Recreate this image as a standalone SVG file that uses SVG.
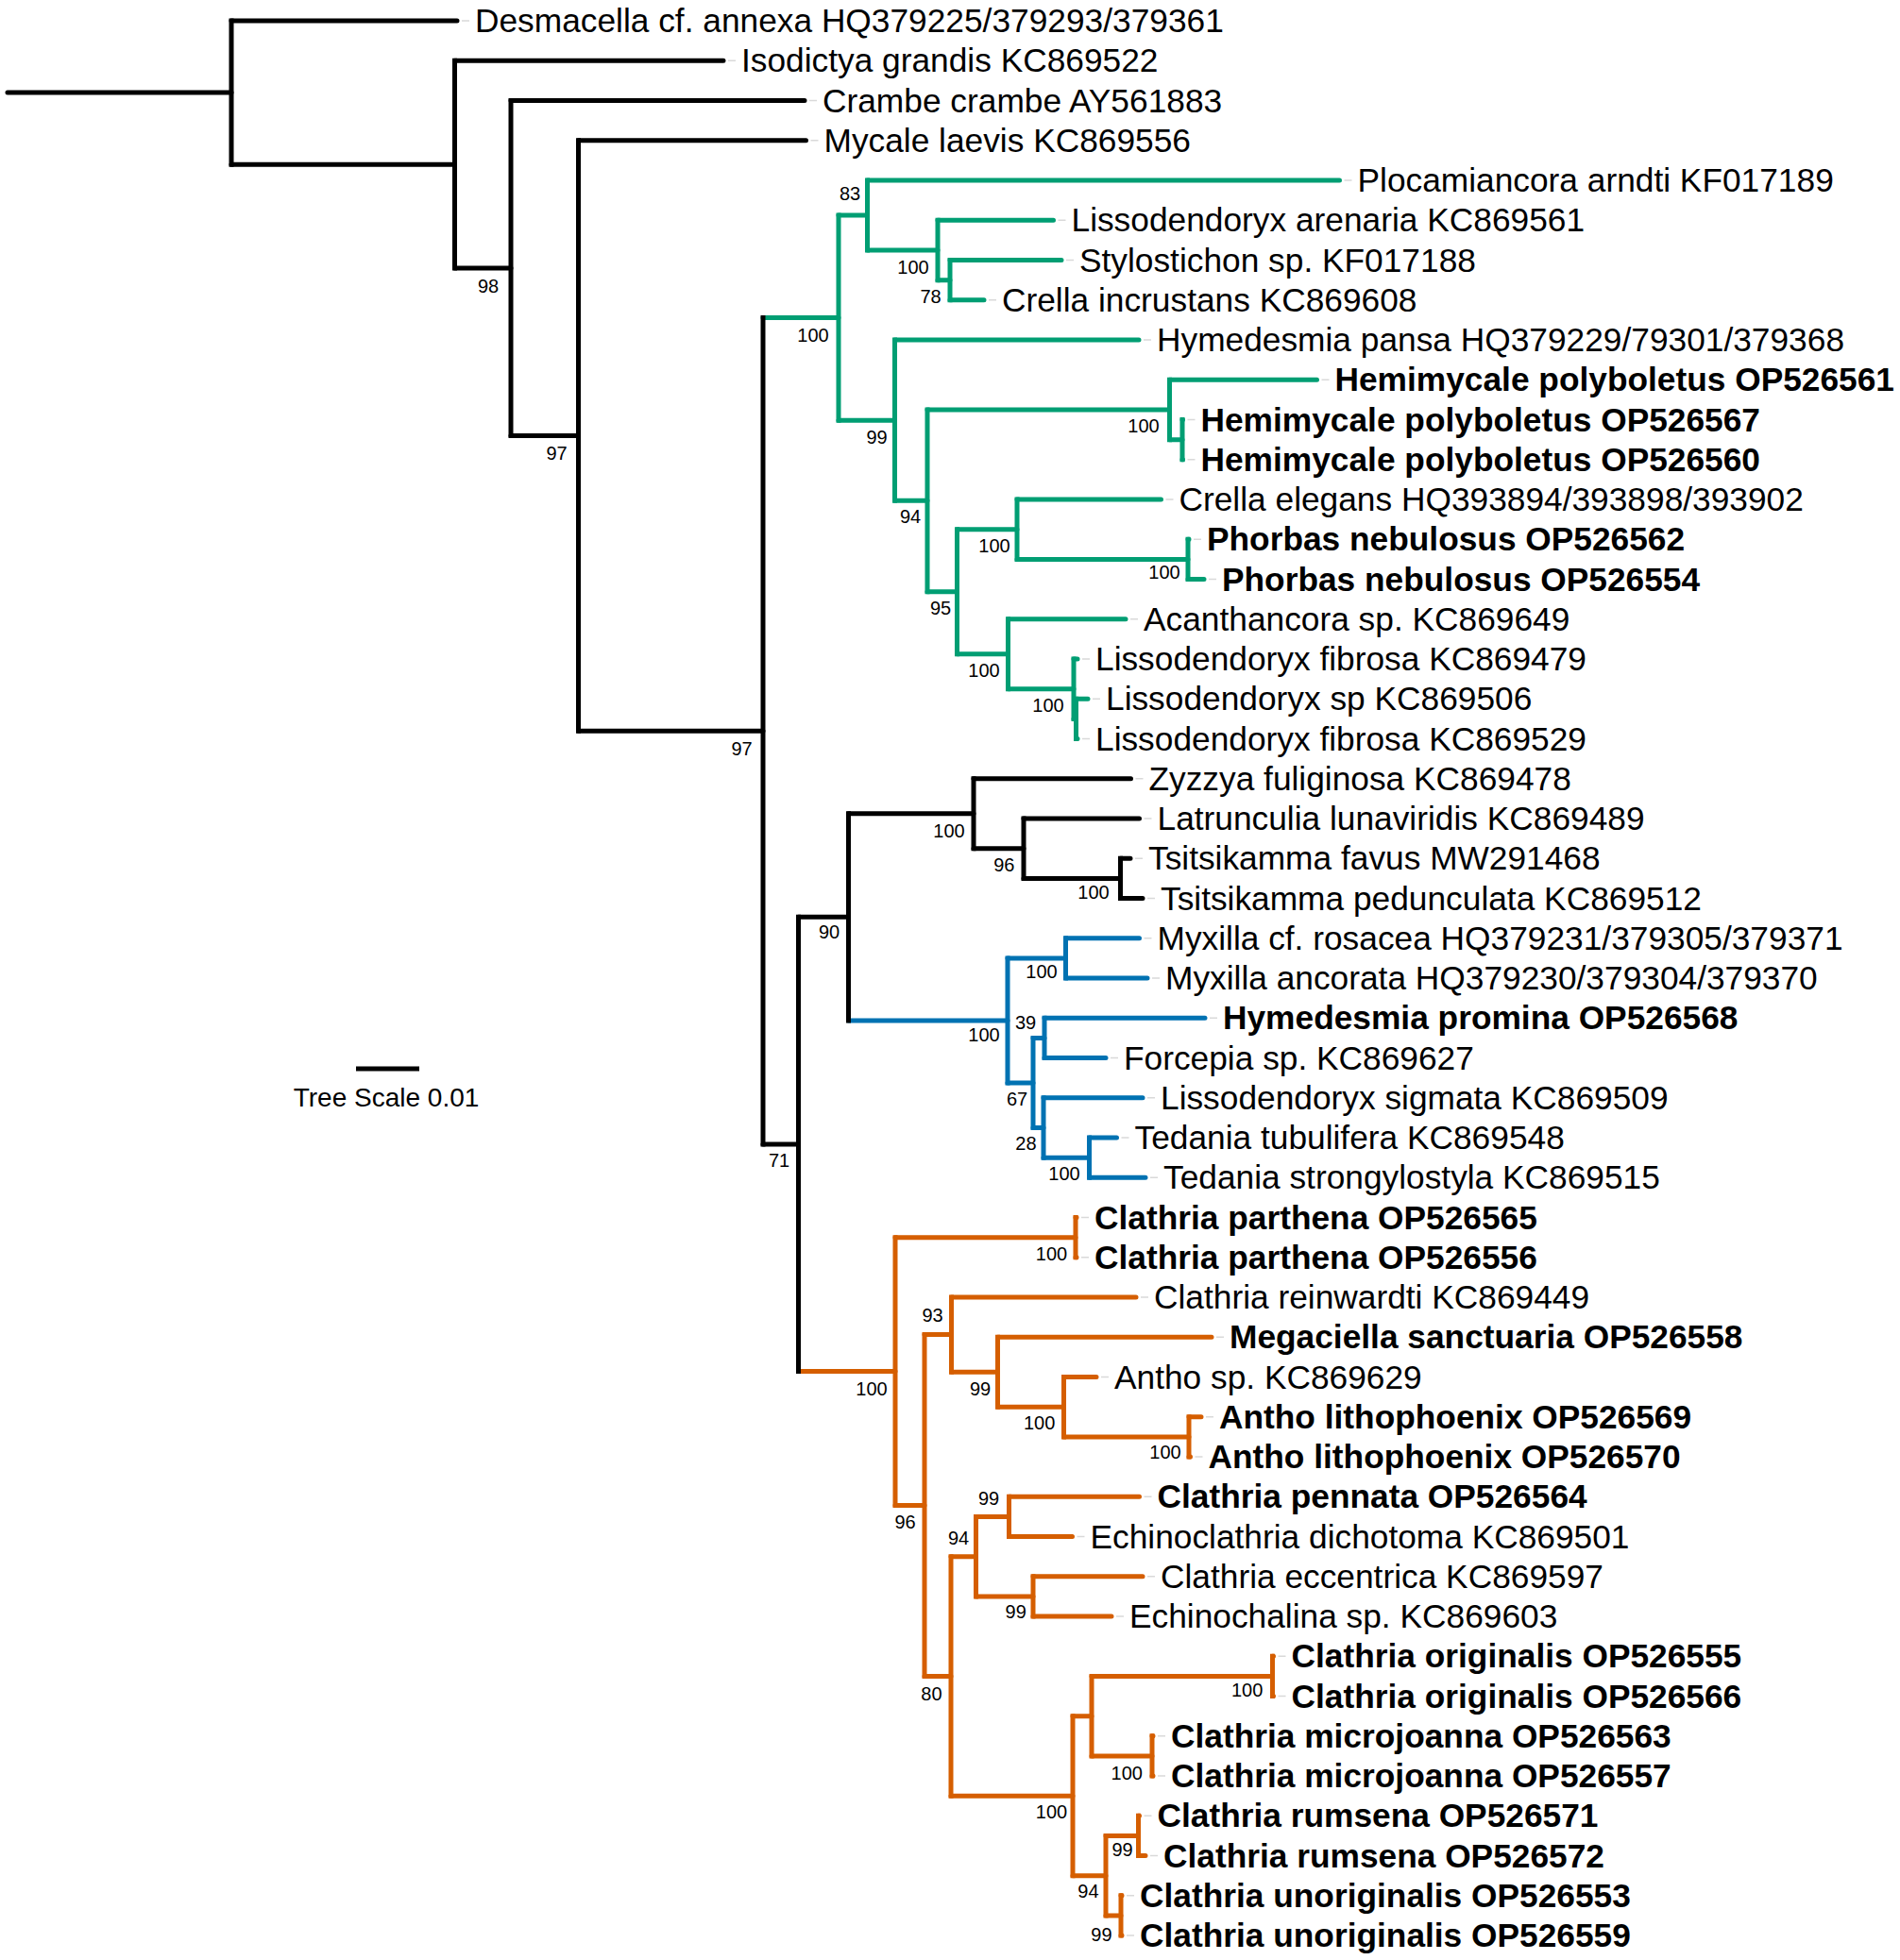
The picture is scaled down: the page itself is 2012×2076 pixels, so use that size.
<svg xmlns="http://www.w3.org/2000/svg" width="2012" height="2076" viewBox="0 0 2012 2076">
<style>
path{fill:none;stroke-width:5}
.k{stroke:#000}.g{stroke:#009E73}.b{stroke:#0072B2}.o{stroke:#D55E00}
.h{stroke-linecap:round}
.v{stroke-linecap:square}
.ld{stroke:#d9d9d9;stroke-width:1.5;stroke-linecap:butt}
text{font-family:"Liberation Sans",Arial,sans-serif;fill:#000}
.lf{font-size:35.3px}
.bd{font-weight:bold}
.bs{font-size:20px;text-anchor:middle}
.sc{font-size:28px;text-anchor:middle}
</style>
<rect width="2012" height="2076" fill="#fff"/>
<g id="connectors">
<g class="k">
<path class="h" d="M8 98.06H245M245 22H484M245 174.125H481.5M481.5 64.25H766M481.5 284H541M541 106.5H852M541 461.5H612.5M612.5 148.75H853.5M612.5 774.25H808M808 1211.93H845.5M845.5 971.3H898.5M898.5 861.72H1031M1031 824.75H1197.5M1031 898.69H1084M1084 867H1206.5M1084 930.375H1186.5M1186.5 909.25H1197M1186.5 951.5H1210"/>
</g>
<g class="g">
<path class="h" d="M808 336.57H888M888 227.97H918.5M918.5 191H1418.5M918.5 264.94H993M993 233.25H1115.5M993 296.625H1006M1006 275.5H1124M1006 317.75H1042M888 445.16H947.5M947.5 360H1206M947.5 530.32H982M982 433.94H1238.5M1238.5 402.25H1394.5M1238.5 465.625H1252M1252 444.5H1252.5M1252 486.75H1252.5M982 626.7H1013.5M1013.5 560.69H1077M1077 529H1229.5M1077 592.375H1258M1258 571.25H1259M1258 613.5H1275M1013.5 692.72H1067.5M1067.5 655.75H1192M1067.5 729.69H1137M1137 698H1141M1137 761.375H1139.5M1139.5 740.25H1152M1139.5 782.5H1141"/>
</g>
<g class="b">
<path class="h" d="M898.5 1080.89H1067M1067 1014.875H1128.5M1128.5 993.75H1206.5M1128.5 1036H1215M1067 1146.91H1094M1094 1099.375H1106M1106 1078.25H1276M1106 1120.5H1171M1094 1194.44H1105M1105 1162.75H1210M1105 1226.125H1153.5M1153.5 1205H1182.5M1153.5 1247.25H1213"/>
</g>
<g class="o">
<path class="h" d="M845.5 1452.56H948M948 1310.625H1139M1139 1289.5H1140M1139 1331.75H1140M948 1594.49H979M979 1413.61H1007.5M1007.5 1374H1203M1007.5 1453.22H1056.5M1056.5 1416.25H1283M1056.5 1490.19H1126.5M1126.5 1458.5H1161M1126.5 1521.875H1259M1259 1500.75H1272M1259 1543H1260.5M979 1775.375H1007M1007 1648.625H1033.5M1033.5 1606.375H1068.5M1068.5 1585.25H1206.5M1068.5 1627.5H1135.5M1033.5 1690.875H1094M1094 1669.75H1210M1094 1712H1177M1007 1902.125H1136M1136 1817.625H1156M1156 1775.375H1347.5M1347.5 1754.25H1348.5M1347.5 1796.5H1348.5M1156 1859.875H1220M1220 1838.75H1221M1220 1881H1221M1136 1986.625H1171M1171 1944.375H1205.5M1205.5 1923.25H1206.5M1205.5 1965.5H1213M1171 2028.875H1187M1187 2007.75H1188M1187 2050H1188"/>
</g>
<g class="g">
<path class="v" d="M888 227.97V445.16M918.5 191V264.94M993 233.25V296.625M1006 275.5V317.75M947.5 360V530.32M982 433.94V626.7M1238.5 402.25V465.625M1252 444.5V486.75M1013.5 560.69V692.72M1077 529V592.375M1258 571.25V613.5M1067.5 655.75V729.69M1137 698V761.375M1139.5 740.25V782.5"/>
</g>
<g class="b">
<path class="v" d="M1067 1014.875V1146.91M1128.5 993.75V1036M1094 1099.375V1194.44M1106 1078.25V1120.5M1105 1162.75V1226.125M1153.5 1205V1247.25"/>
</g>
<g class="o">
<path class="v" d="M948 1310.625V1594.49M1139 1289.5V1331.75M979 1413.61V1775.375M1007.5 1374V1453.22M1056.5 1416.25V1490.19M1126.5 1458.5V1521.875M1259 1500.75V1543M1007 1648.625V1902.125M1033.5 1606.375V1690.875M1068.5 1585.25V1627.5M1094 1669.75V1712M1136 1817.625V1986.625M1156 1775.375V1859.875M1347.5 1754.25V1796.5M1220 1838.75V1881M1171 1944.375V2028.875M1205.5 1923.25V1965.5M1187 2007.75V2050"/>
</g>
<g class="k">
<path class="v" d="M245 22V174.125M481.5 64.25V284M541 106.5V461.5M612.5 148.75V774.25M808 336.57V1211.93M845.5 971.3V1452.56M898.5 861.72V1080.89M1031 824.75V898.69M1084 867V930.375M1186.5 909.25V951.5"/>
</g>
</g>
<g id="leaders">
<path class="ld" d="M489 22H497M771 64.25H779M857 106.5H865M858.5 148.75H866.5M1423.5 191H1431.5M1120.5 233.25H1128.5M1129 275.5H1137M1047 317.75H1055M1211 360H1219M1399.5 402.25H1407.5M1257.5 444.5H1265.5M1257.5 486.75H1265.5M1234.5 529H1242.5M1264 571.25H1272M1280 613.5H1288M1197 655.75H1205M1146 698H1154M1157 740.25H1165M1146 782.5H1154M1202.5 824.75H1210.5M1211.5 867H1219.5M1202 909.25H1210M1215 951.5H1223M1211.5 993.75H1219.5M1220 1036H1228M1281 1078.25H1289M1176 1120.5H1184M1215 1162.75H1223M1187.5 1205H1195.5M1218 1247.25H1226M1145 1289.5H1153M1145 1331.75H1153M1208 1374H1216M1288 1416.25H1296M1166 1458.5H1174M1277 1500.75H1285M1265.5 1543H1273.5M1211.5 1585.25H1219.5M1140.5 1627.5H1148.5M1215 1669.75H1223M1182 1712H1190M1353.5 1754.25H1361.5M1353.5 1796.5H1361.5M1226 1838.75H1234M1226 1881H1234M1211.5 1923.25H1219.5M1218 1965.5H1226M1193 2007.75H1201M1193 2050H1201"/>
</g>
<g id="leaf-00"><text class="lf" x="503" y="34">Desmacella cf. annexa HQ379225/379293/379361</text></g>
<g id="leaf-01"><text class="lf" x="785" y="76.25">Isodictya grandis KC869522</text></g>
<g id="leaf-02"><text class="lf" x="871" y="118.5">Crambe crambe AY561883</text></g>
<g id="leaf-03"><text class="lf" x="872.5" y="160.75">Mycale laevis KC869556</text></g>
<g id="leaf-04"><text class="lf" x="1437.5" y="203">Plocamiancora arndti KF017189</text></g>
<g id="leaf-05"><text class="lf" x="1134.5" y="245.25">Lissodendoryx arenaria KC869561</text></g>
<g id="leaf-06"><text class="lf" x="1143" y="287.5">Stylostichon sp. KF017188</text></g>
<g id="leaf-07"><text class="lf" x="1061" y="329.75">Crella incrustans KC869608</text></g>
<g id="leaf-08"><text class="lf" x="1225" y="372">Hymedesmia pansa HQ379229/79301/379368</text></g>
<g id="leaf-09"><text class="lf bd" x="1413.5" y="414.25">Hemimycale polyboletus OP526561</text></g>
<g id="leaf-10"><text class="lf bd" x="1271.5" y="456.5">Hemimycale polyboletus OP526567</text></g>
<g id="leaf-11"><text class="lf bd" x="1271.5" y="498.75">Hemimycale polyboletus OP526560</text></g>
<g id="leaf-12"><text class="lf" x="1248.5" y="541">Crella elegans HQ393894/393898/393902</text></g>
<g id="leaf-13"><text class="lf bd" x="1278" y="583.25">Phorbas nebulosus OP526562</text></g>
<g id="leaf-14"><text class="lf bd" x="1294" y="625.5">Phorbas nebulosus OP526554</text></g>
<g id="leaf-15"><text class="lf" x="1211" y="667.75">Acanthancora sp. KC869649</text></g>
<g id="leaf-16"><text class="lf" x="1160" y="710">Lissodendoryx fibrosa KC869479</text></g>
<g id="leaf-17"><text class="lf" x="1171" y="752.25">Lissodendoryx sp KC869506</text></g>
<g id="leaf-18"><text class="lf" x="1160" y="794.5">Lissodendoryx fibrosa KC869529</text></g>
<g id="leaf-19"><text class="lf" x="1216.5" y="836.75">Zyzzya fuliginosa KC869478</text></g>
<g id="leaf-20"><text class="lf" x="1225.5" y="879">Latrunculia lunaviridis KC869489</text></g>
<g id="leaf-21"><text class="lf" x="1216" y="921.25">Tsitsikamma favus MW291468</text></g>
<g id="leaf-22"><text class="lf" x="1229" y="963.5">Tsitsikamma pedunculata KC869512</text></g>
<g id="leaf-23"><text class="lf" x="1225.5" y="1005.75">Myxilla cf. rosacea HQ379231/379305/379371</text></g>
<g id="leaf-24"><text class="lf" x="1234" y="1048">Myxilla ancorata HQ379230/379304/379370</text></g>
<g id="leaf-25"><text class="lf bd" x="1295" y="1090.25">Hymedesmia promina OP526568</text></g>
<g id="leaf-26"><text class="lf" x="1190" y="1132.5">Forcepia sp. KC869627</text></g>
<g id="leaf-27"><text class="lf" x="1229" y="1174.75">Lissodendoryx sigmata KC869509</text></g>
<g id="leaf-28"><text class="lf" x="1201.5" y="1217">Tedania tubulifera KC869548</text></g>
<g id="leaf-29"><text class="lf" x="1232" y="1259.25">Tedania strongylostyla KC869515</text></g>
<g id="leaf-30"><text class="lf bd" x="1159" y="1301.5">Clathria parthena OP526565</text></g>
<g id="leaf-31"><text class="lf bd" x="1159" y="1343.75">Clathria parthena OP526556</text></g>
<g id="leaf-32"><text class="lf" x="1222" y="1386">Clathria reinwardti KC869449</text></g>
<g id="leaf-33"><text class="lf bd" x="1302" y="1428.25">Megaciella sanctuaria OP526558</text></g>
<g id="leaf-34"><text class="lf" x="1180" y="1470.5">Antho sp. KC869629</text></g>
<g id="leaf-35"><text class="lf bd" x="1291" y="1512.75">Antho lithophoenix OP526569</text></g>
<g id="leaf-36"><text class="lf bd" x="1279.5" y="1555">Antho lithophoenix OP526570</text></g>
<g id="leaf-37"><text class="lf bd" x="1225.5" y="1597.25">Clathria pennata OP526564</text></g>
<g id="leaf-38"><text class="lf" x="1154.5" y="1639.5">Echinoclathria dichotoma KC869501</text></g>
<g id="leaf-39"><text class="lf" x="1229" y="1681.75">Clathria eccentrica KC869597</text></g>
<g id="leaf-40"><text class="lf" x="1196" y="1724">Echinochalina sp. KC869603</text></g>
<g id="leaf-41"><text class="lf bd" x="1367.5" y="1766.25">Clathria originalis OP526555</text></g>
<g id="leaf-42"><text class="lf bd" x="1367.5" y="1808.5">Clathria originalis OP526566</text></g>
<g id="leaf-43"><text class="lf bd" x="1240" y="1850.75">Clathria microjoanna OP526563</text></g>
<g id="leaf-44"><text class="lf bd" x="1240" y="1893">Clathria microjoanna OP526557</text></g>
<g id="leaf-45"><text class="lf bd" x="1225.5" y="1935.25">Clathria rumsena OP526571</text></g>
<g id="leaf-46"><text class="lf bd" x="1232" y="1977.5">Clathria rumsena OP526572</text></g>
<g id="leaf-47"><text class="lf bd" x="1207" y="2019.75">Clathria unoriginalis OP526553</text></g>
<g id="leaf-48"><text class="lf bd" x="1207" y="2062">Clathria unoriginalis OP526559</text></g>
<g id="node-B"><text class="bs" x="517" y="310">98</text></g>
<g id="node-C"><text class="bs" x="589.5" y="487">97</text></g>
<g id="node-D"><text class="bs" x="785.5" y="799.5">97</text></g>
<g id="node-G1"><text class="bs" x="900" y="211.7">83</text></g>
<g id="node-G1a"><text class="bs" x="967" y="289.5">100</text></g>
<g id="node-G1b"><text class="bs" x="985.5" y="320.7">78</text></g>
<g id="node-G"><text class="bs" x="861" y="361.7">100</text></g>
<g id="node-H"><text class="bs" x="1211" y="458">100</text></g>
<g id="node-G2"><text class="bs" x="928.5" y="469.5">99</text></g>
<g id="node-G3"><text class="bs" x="964" y="554">94</text></g>
<g id="node-P"><text class="bs" x="1053" y="585.3">100</text></g>
<g id="node-Ph"><text class="bs" x="1233" y="613.3">100</text></g>
<g id="node-G4"><text class="bs" x="996" y="651">95</text></g>
<g id="node-A"><text class="bs" x="1042" y="716.5">100</text></g>
<g id="node-L"><text class="bs" x="1110" y="754">100</text></g>
<g id="node-K"><text class="bs" x="1005" y="886.5">100</text></g>
<g id="node-K2"><text class="bs" x="1063.3" y="922.5">96</text></g>
<g id="node-T"><text class="bs" x="1158" y="952.3">100</text></g>
<g id="node-F"><text class="bs" x="878" y="993.5">90</text></g>
<g id="node-My"><text class="bs" x="1103" y="1036">100</text></g>
<g id="node-M"><text class="bs" x="1042" y="1102.8">100</text></g>
<g id="node-M3"><text class="bs" x="1086" y="1090.3">39</text></g>
<g id="node-M2"><text class="bs" x="1077" y="1171">67</text></g>
<g id="node-M4"><text class="bs" x="1086.4" y="1217.8">28</text></g>
<g id="node-Td"><text class="bs" x="1127" y="1249.5">100</text></g>
<g id="node-E"><text class="bs" x="825" y="1236.2">71</text></g>
<g id="node-Cp"><text class="bs" x="1113.5" y="1335">100</text></g>
<g id="node-O3"><text class="bs" x="987.5" y="1400.3">93</text></g>
<g id="node-O"><text class="bs" x="923" y="1477.8">100</text></g>
<g id="node-O5"><text class="bs" x="1038" y="1477.8">99</text></g>
<g id="node-O6"><text class="bs" x="1100.7" y="1514">100</text></g>
<g id="node-Al"><text class="bs" x="1234" y="1545">100</text></g>
<g id="node-O9"><text class="bs" x="1047" y="1593.7">99</text></g>
<g id="node-O2"><text class="bs" x="958.6" y="1618.7">96</text></g>
<g id="node-O7"><text class="bs" x="1015" y="1635.5">94</text></g>
<g id="node-O10"><text class="bs" x="1075.7" y="1713.8">99</text></g>
<g id="node-O4"><text class="bs" x="986.4" y="1801.2">80</text></g>
<g id="node-Co"><text class="bs" x="1320.6" y="1797.2">100</text></g>
<g id="node-Mj"><text class="bs" x="1193.3" y="1885">100</text></g>
<g id="node-O8"><text class="bs" x="1113.5" y="1926.2">100</text></g>
<g id="node-R"><text class="bs" x="1188.6" y="1965.5">99</text></g>
<g id="node-O12"><text class="bs" x="1152.4" y="2009.5">94</text></g>
<g id="node-U"><text class="bs" x="1166.4" y="2055.5">99</text></g>
<g id="scale">
<path d="M377 1132H444" stroke="#000" stroke-width="6.5"/>
<text class="sc" x="409" y="1172">Tree Scale 0.01</text>
</g>
</svg>
